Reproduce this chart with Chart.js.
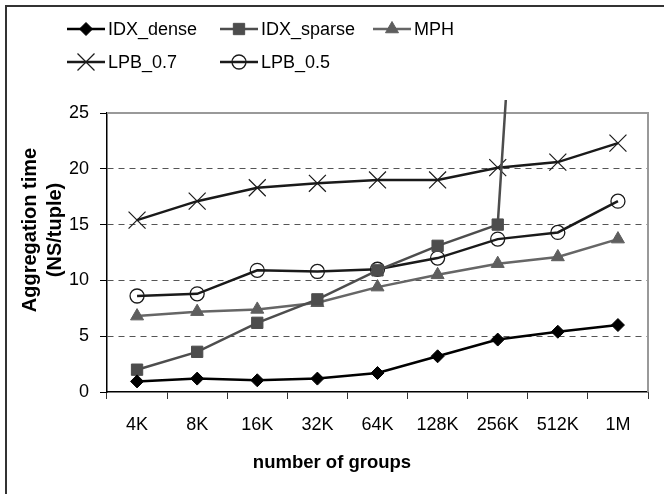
<!DOCTYPE html>
<html>
<head>
<meta charset="utf-8">
<script src="https://cdn.jsdelivr.net/npm/chart.js@4"></script>
<style>
  html, body { margin: 0; padding: 0; background: #fff; }
  #wrap { position: relative; width: 664px; height: 494px; overflow: hidden; }
  #frame { position: absolute; left: 5px; top: 5px; width: 700px; height: 600px;
           border-left: 2px solid #333; border-top: 2px solid #333; }
  canvas { position: absolute; left: 0; top: 0; }
</style>
</head>
<body>
<div id="wrap">
  <div id="frame"></div>
  <canvas id="chart" width="664" height="494"></canvas>
</div>
<script>
const groups = ["4K", "8K", "16K", "32K", "64K", "128K", "256K", "512K", "1M"];
const idxDense = [0.95, 1.2, 1.05, 1.2, 1.7, 3.2, 4.7, 5.4, 6.0];
const idxSparse = [2.0, 3.6, 6.2, 8.3, 10.9, 13.1, 15.0, 98, null];
const mph = [6.8, 7.2, 7.4, 8.0, 9.4, 10.5, 11.5, 12.1, 13.7];
const lpb07 = [15.4, 17.1, 18.3, 18.7, 19.0, 19.0, 20.1, 20.6, 22.3];
const lpb05 = [8.6, 8.8, 10.9, 10.8, 11.0, 12.0, 13.7, 14.3, 17.1];
const yTicks = [0, 5, 10, 15, 20, 25];
const xTitle = 'number of groups';
const yTitle = ['Aggregation time', '(NS/tuple)'];

const FONT = "'Liberation Sans', Arial, sans-serif";
Chart.defaults.font.family = FONT;
Chart.defaults.color = "#000";

// plot frame (top/right), axis titles and the two-row legend
const extras = {
  id: 'extras',
  beforeDatasetsDraw(chart) {
    const { ctx, chartArea: a } = chart;
    ctx.save();
    ctx.strokeStyle = '#999';
    ctx.lineWidth = 2;
    ctx.beginPath();
    ctx.moveTo(a.left, a.top);
    ctx.lineTo(a.right, a.top);
    ctx.lineTo(a.right, a.bottom);
    ctx.stroke();
    ctx.restore();
  },
  afterDraw(chart) {
    const ctx = chart.ctx;
    ctx.save();
    ctx.fillStyle = '#000';
    ctx.textAlign = 'center';
    ctx.textBaseline = 'middle';
    ctx.font = `bold 18.5px ${FONT}`;
    ctx.fillText(xTitle, 332, 463);
    ctx.save();
    ctx.translate(0, 230);
    ctx.rotate(-Math.PI / 2);
    ctx.font = `bold 20px ${FONT}`;
    yTitle.forEach((t, i) => ctx.fillText(t, 0, 30 + i * 25));
    ctx.restore();

    const cols = [67, 220, 373];
    const rows = [29, 62];
    ctx.textAlign = 'left';
    chart.data.datasets.forEach((ds, i) => {
      const x = cols[i % 3], y = rows[Math.floor(i / 3)];
      ctx.strokeStyle = ds.borderColor;
      ctx.lineWidth = ds.borderWidth;
      ctx.beginPath();
      ctx.moveTo(x, y);
      ctx.lineTo(x + 38, y);
      ctx.stroke();
      ctx.fillStyle = ds.pointBackgroundColor;
      ctx.strokeStyle = ds.pointBorderColor;
      ctx.lineWidth = ds.pointBorderWidth;
      Chart.helpers.drawPoint(ctx, {
        pointStyle: ds.pointStyle, radius: ds.pointRadius, rotation: 0,
        borderWidth: ds.pointBorderWidth
      }, x + 19, y);
      ctx.fillStyle = '#000';
      ctx.font = `18px ${FONT}`;
      ctx.fillText(ds.label, x + 41, y + 1);
    });
    ctx.restore();
  }
};

new Chart(document.getElementById('chart'), {
  type: 'line',
  data: {
    labels: groups,
    datasets: [
      { label: 'IDX_dense', data: idxDense, borderColor: '#000', borderWidth: 2.5,
        pointStyle: 'rectRot', pointRadius: 6.5, pointBackgroundColor: '#000',
        pointBorderColor: '#000', pointBorderWidth: 1 },
      { label: 'IDX_sparse', data: idxSparse, borderColor: '#4d4d4d', borderWidth: 2.5,
        pointStyle: 'rect', pointRadius: 8, pointBackgroundColor: '#4d4d4d',
        pointBorderColor: '#4d4d4d', pointBorderWidth: 1,
        clip: { left: 8, top: 13, right: 8, bottom: 8 } },
      { label: 'MPH', data: mph, borderColor: '#666', borderWidth: 2.5,
        pointStyle: 'triangle', pointRadius: 7.5, pointBackgroundColor: '#5e5e5e',
        pointBorderColor: '#5e5e5e', pointBorderWidth: 1 },
      { label: 'LPB_0.7', data: lpb07, borderColor: '#1a1a1a', borderWidth: 2.5,
        pointStyle: 'crossRot', pointRadius: 12, pointBackgroundColor: '#1a1a1a',
        pointBorderColor: '#1a1a1a', pointBorderWidth: 1.2 },
      { label: 'LPB_0.5', data: lpb05, borderColor: '#1a1a1a', borderWidth: 2.5,
        pointStyle: 'circle', pointRadius: 7, pointBackgroundColor: 'rgba(255,255,255,0)',
        pointBorderColor: '#1a1a1a', pointBorderWidth: 1.3 }
    ]
  },
  options: {
    responsive: false,
    animation: false,
    devicePixelRatio: 1,
    layout: { padding: { left: 0, top: 113, right: 16, bottom: 0 } },
    plugins: { legend: { display: false }, tooltip: { enabled: false } },
    scales: {
      x: {
        offset: true,
        grid: { offset: true, drawOnChartArea: false, drawTicks: true, tickLength: 7,
                tickColor: '#333', tickWidth: 1 },
        border: { color: '#000', width: 1.5 },
        ticks: { padding: 15, font: { size: 18 }, maxRotation: 0, autoSkip: false },
        afterFit(scale) { scale.height = 102; }
      },
      y: {
        min: 0, max: 25,
        afterBuildTicks(scale) { scale.ticks = yTicks.map(v => ({ value: v })); },
        grid: {
          color: ctx => (ctx.tick && (ctx.tick.value === 0 || ctx.tick.value === 25)) ? 'rgba(0,0,0,0)' : '#555',
          lineWidth: 1, tickLength: 7, tickColor: '#000', tickBorderDash: [], tickWidth: 1
        },
        border: { color: '#000', width: 1.5, dash: [6, 5] },
        ticks: { padding: 11, font: { size: 18 } },
        afterFit(scale) { scale.width = 107; }
      }
    }
  },
  plugins: [extras]
});
</script>
</body>
</html>
